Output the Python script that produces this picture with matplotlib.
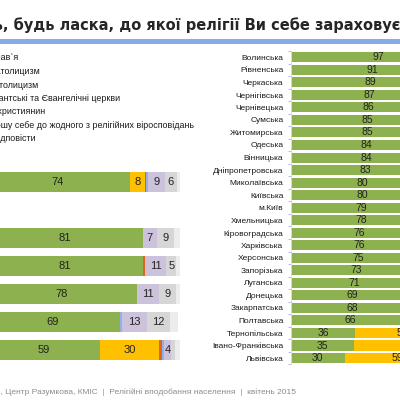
import numpy as np
import matplotlib
matplotlib.use('Agg')
import matplotlib.pyplot as plt
from matplotlib.patches import Rectangle

plt.rcParams['font.family'] = ['Liberation Sans', 'DejaVu Sans']

title = 'Скажіть, будь ласка, до якої релігії Ви себе зараховуєте?'
legend_labels = ['Православ`я', 'Греко-католицизм', 'Римо-католицизм',
                 'Протестантські та Євангелічні церкви', 'Просто християнин',
                 'Не відношу себе до жодного з релігійних віросповідань',
                 'Важко відповісти']
source = 'СОЦИС, Центр Разумкова, КМІС  |  Релігійні вподобання населення  |  квітень 2015'

colors = ['#8db14f', '#ffc000', '#e0641e', '#8fb4e3', '#cdc2dc', '#d6d6d6', '#ececec']

# left block: all Ukraine + macro regions (row 1 is an empty spacer)
left_rows = [0, 2, 3, 4, 5, 6]
left_orth = [74, 81, 81, 78, 69, 59]
left_greek = [8, 0, 0, 0, 0, 30]
left_roman = [0.5, 0, 1, 0, 0, 1.5]
left_prot = [0.8, 0, 0, 0, 1, 1]
left_just = [9, 7, 11, 11, 13, 4]
left_none = [6, 9, 5, 9, 12, 2]
left_hard = [1.7, 3, 2, 2, 4, 2.5]

# right block: oblasts
regions = ['Волинська', 'Рівненська', 'Черкаська', 'Чернігівська', 'Чернівецька',
           'Сумська', 'Житомирська', 'Одеська', 'Вінницька', 'Дніпропетровська',
           'Миколаївська', 'Київська', 'м.Київ', 'Хмельницька', 'Кіровоградська',
           'Харківська', 'Херсонська', 'Запорізька', 'Луганська', 'Донецька',
           'Закарпатська', 'Полтавська', 'Тернопільська', 'Івано-Франківська', 'Львівська']
right_orth = [97, 91, 89, 87, 86, 85, 85, 84, 84, 83, 80, 80, 79, 78, 76, 76, 75, 73,
              71, 69, 68, 66, 36, 35, 30]
right_greek = [0] * 22 + [52, 60, 59]

fig = plt.figure(figsize=(4, 4), dpi=100)
renderer = fig.canvas.get_renderer()


def px_width(s, **kw):
    t = fig.text(0, 0, s, **kw)
    w = t.get_window_extent(renderer=renderer).width
    t.remove()
    return w


# title + blue rule
tkw = dict(size=10.5, weight='bold', family=['DejaVu Sans'])
fig.text((3 - px_width('Скажіть', **tkw)) / 400, 1 - 25 / 400, title,
         color='#262626', va='center', ha='left', **tkw)
fig.add_artist(Rectangle((0, 1 - 43.5 / 400), 1, 5 / 400, transform=fig.transFigure,
                         color='#87abe9', lw=0))

# legend text (markers sit off the cropped edge)
leg_x = (1 - px_width('Не відно', size=6.4)) / 400
for i, lab in enumerate(legend_labels):
    fig.text(leg_x, 1 - (58 + 13.5 * i) / 400, lab, size=6.4, color='#1a1a1a',
             va='center', ha='left')

# left stacked bars
ax1 = fig.add_axes([-14 / 400, 1 - 364 / 400, 194 / 400, 196 / 400])
segments = [left_orth, left_greek, left_roman, left_prot, left_just, left_none, left_hard]
labelled = [True, True, False, False, True, True, False]
left = np.zeros(len(left_rows))
for vals, c, lab in zip(segments, colors, labelled):
    vals = np.array(vals, dtype=float)
    ax1.barh(left_rows, vals, left=left, height=0.71, color=c, lw=0)
    if lab:
        for y, l, v in zip(left_rows, left, vals):
            if v >= 4:
                ax1.text(l + v / 2, y, f'{v:.0f}', ha='center', va='center',
                         size=8, color='#222222')
    left += vals
ax1.set_xlim(0, 100)
ax1.set_ylim(6.5, -0.5)
ax1.axis('off')

# right bars
ax2 = fig.add_axes([291 / 400, 1 - 364.3 / 400, 179 / 400, 313.3 / 400])
ypos = np.arange(len(regions))
ax2.barh(ypos, right_orth, height=0.8, color=colors[0], lw=0)
ax2.barh(ypos, right_greek, left=right_orth, height=0.8, color=colors[1], lw=0)
for y, g, o in zip(ypos, right_orth, right_greek):
    ax2.text(g / 2, y, str(g), ha='center', va='center', size=7.5, color='#222222')
    if o:
        ax2.text(g + o / 2, y, str(o), ha='center', va='center', size=7.5, color='#222222')
ax2.set_xlim(0, 100)
ax2.set_ylim(len(regions) - 0.5, -0.5)
ax2.set_yticks(ypos)
ax2.set_yticklabels(regions, size=6.0, color='#1a1a1a')
ax2.set_yticks(np.arange(-0.5, len(regions)), minor=True)
ax2.tick_params(axis='y', which='major', length=0, pad=5.5)
ax2.tick_params(axis='y', which='minor', length=2.5, width=0.6, color='#aab4d8')
ax2.set_xticks([])
for s in ['top', 'right', 'bottom']:
    ax2.spines[s].set_visible(False)
ax2.spines['left'].set_color('#d9d9d9')
ax2.spines['left'].set_linewidth(0.7)
ax2.patch.set_visible(False)

# source line
fig.text((1 - px_width('СОЦИС', size=6.0)) / 400, 1 - 392 / 400, source, size=6.0,
         color='#8c8c8c', va='center', ha='left')

fig.savefig('out.png', dpi=100)
